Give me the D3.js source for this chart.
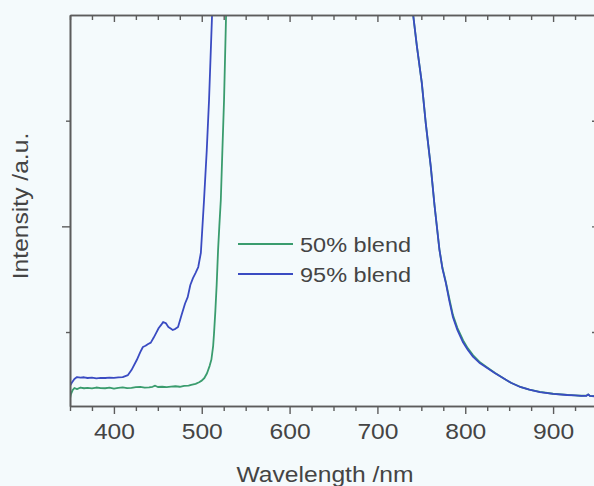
<!DOCTYPE html>
<html>
<head>
<meta charset="utf-8">
<script src="https://cdn.jsdelivr.net/npm/d3@7/dist/d3.min.js"></script>
<style>
  html, body { margin: 0; padding: 0; background: #f4fafc; }
  svg { display: block; }
</style>
</head>
<body>
<script>
// ---- Data ----
const seriesNames = ["50% blend", "95% blend"];

// 50% blend (green)
const greenWavelength = [350, 351, 353, 355, 358, 362, 366, 370, 375, 380, 385, 390, 395, 400, 405, 410, 415, 420, 425, 430, 435, 440, 444, 447, 450, 455, 460, 465, 470, 475, 480, 485, 488, 493, 497, 500, 503, 506, 509, 511, 513, 514, 515.5, 517, 518.6, 520, 521.7, 523.5, 525.4, 527.7, 529,
  600,
  738, 740.7, 745, 750.5, 755, 760.8, 765, 770.6, 774, 778, 782, 786, 791, 797.6, 803, 809, 816, 825, 834, 843, 852, 862.5, 873, 885, 900, 916, 925, 932, 938, 940, 942, 950];
const greenIntensity = [0.37, 0.41, 0.45, 0.47, 0.46, 0.475, 0.468, 0.472, 0.466, 0.475, 0.47, 0.468, 0.474, 0.465, 0.472, 0.476, 0.469, 0.472, 0.478, 0.48, 0.474, 0.476, 0.482, 0.492, 0.48, 0.482, 0.479, 0.484, 0.487, 0.482, 0.49, 0.493, 0.50, 0.51, 0.525, 0.54, 0.565, 0.61, 0.68, 0.74, 0.87, 0.99, 1.2, 1.45, 1.78, 2.0, 2.25, 2.72, 3.2, 4.0, 4.35,
  null,
  4.35, 4.0, 3.7, 3.36, 2.98, 2.56, 2.2, 1.78, 1.61, 1.47, 1.31, 1.16, 1.04, 0.92, 0.845, 0.78, 0.72, 0.665, 0.612, 0.565, 0.52, 0.482, 0.455, 0.433, 0.416, 0.405, 0.40, 0.397, 0.398, 0.41, 0.396, 0.39];

// 95% blend (blue)
const blueWavelength = [350, 352, 355, 358, 362, 366, 370, 375, 380, 385, 390, 395, 400, 405, 410, 416, 420, 426, 430, 433, 436, 439, 442, 445, 448, 451, 454, 456, 459, 462, 465, 467, 470, 473, 477, 481, 484, 487, 490, 493, 496, 499, 502.6, 505.7, 508.3, 511.7, 513,
  600,
  738, 740.7, 745, 750.5, 755, 760.8, 765, 770.6, 774, 778, 782, 786, 791, 797.6, 803, 809, 816, 825, 834, 843, 852, 862.5, 873, 885, 900, 916, 925, 932, 938, 940, 942, 950];
const blueIntensity = [0.49, 0.52, 0.555, 0.574, 0.568, 0.572, 0.565, 0.568, 0.562, 0.566, 0.565, 0.569, 0.566, 0.57, 0.574, 0.593, 0.64, 0.735, 0.81, 0.858, 0.87, 0.887, 0.9, 0.943, 0.99, 1.038, 1.07, 1.095, 1.085, 1.047, 1.03, 1.019, 1.03, 1.047, 1.16, 1.27, 1.33, 1.445, 1.51, 1.56, 1.615, 1.75, 2.25, 2.72, 3.195, 3.99, 4.3,
  null,
  4.35, 4.0, 3.7, 3.36, 2.98, 2.56, 2.2, 1.78, 1.6, 1.46, 1.29, 1.14, 1.02, 0.90, 0.83, 0.765, 0.71, 0.66, 0.61, 0.565, 0.52, 0.48, 0.455, 0.432, 0.415, 0.404, 0.40, 0.395, 0.397, 0.41, 0.395, 0.39];

const xMajorTicks = [400, 500, 600, 700, 800, 900];
const xMinorTicks = d3.range(350, 951, 25).filter(v => v % 100 !== 0);
const yMajorTicks = [2];
const yMinorTicks = [1, 3];
const xTitle = "Wavelength /nm";
const yTitle = "Intensity /a.u.";
const colors = ["#3a9c6e", "#3a4bc2"];

// ---- Layout ----
const W = 594, H = 486;
const L = 70, R = 597, T = 15, B = 406;
const font = "'Liberation Sans', Arial, Helvetica, sans-serif";
const textColor = "#444";
const axisColor = "#5c5c5c";
const sx = 1.12; // horizontal stretch of the original lettering

const svg = d3.select("body").append("svg").attr("width", W).attr("height", H);
svg.append("rect").attr("width", W).attr("height", H).attr("fill", "#f4fafc");

const x = d3.scaleLinear().domain([350, 950]).range([L, R]);
const y = d3.scaleLinear().domain([0.3, 4.0]).range([B, T]);

svg.append("defs").append("clipPath").attr("id", "plotclip")
  .append("rect").attr("x", L).attr("y", T).attr("width", R - L).attr("height", B - T);

// ---- Curves ----
const series = [
  { name: seriesNames[0], wl: greenWavelength, v: greenIntensity, color: colors[0] },
  { name: seriesNames[1], wl: blueWavelength, v: blueIntensity, color: colors[1] }
];
const line = d3.line()
  .defined(d => d[1] !== null)
  .x(d => x(d[0])).y(d => y(d[1]));

const plot = svg.append("g").attr("clip-path", "url(#plotclip)");
series.forEach(s => {
  plot.append("path")
    .datum(s.wl.map((w, i) => [w, s.v[i]]))
    .attr("fill", "none")
    .attr("stroke", s.color)
    .attr("stroke-width", 1.8)
    .attr("stroke-linejoin", "round")
    .attr("d", line);
});

// ---- Axes ----
function styleAxis(g) {
  g.selectAll("path.domain").attr("stroke", axisColor).attr("stroke-width", 1.6);
  g.selectAll(".tick line").attr("stroke", axisColor).attr("stroke-width", 1.4);
}

// bottom major with labels
const gxb = svg.append("g").attr("transform", `translate(0,${B})`)
  .call(d3.axisBottom(x).tickValues(xMajorTicks).tickSizeInner(8).tickSizeOuter(0).tickFormat(d3.format("d")));
styleAxis(gxb);
gxb.selectAll(".tick text")
  .attr("y", 33).attr("dy", 0)
  .attr("transform", `scale(${sx},1)`)
  .style("font-family", font).style("font-size", "22px").attr("fill", textColor);
// bottom minor
const gxbm = svg.append("g").attr("transform", `translate(0,${B})`)
  .call(d3.axisBottom(x).tickValues(xMinorTicks).tickSizeInner(5).tickSizeOuter(0).tickFormat(""));
styleAxis(gxbm);

// top axis (inward ticks)
const gxt = svg.append("g").attr("transform", `translate(0,${T})`)
  .call(d3.axisTop(x).tickValues(xMajorTicks).tickSizeInner(-7).tickSizeOuter(0).tickFormat(""));
styleAxis(gxt);
const gxtm = svg.append("g").attr("transform", `translate(0,${T})`)
  .call(d3.axisTop(x).tickValues(xMinorTicks).tickSizeInner(-5).tickSizeOuter(0).tickFormat(""));
styleAxis(gxtm);

// left axis (outward ticks)
const gyl = svg.append("g").attr("transform", `translate(${L},0)`)
  .call(d3.axisLeft(y).tickValues(yMajorTicks).tickSizeInner(8).tickSizeOuter(0).tickFormat(""));
styleAxis(gyl);
const gylm = svg.append("g").attr("transform", `translate(${L},0)`)
  .call(d3.axisLeft(y).tickValues(yMinorTicks).tickSizeInner(4).tickSizeOuter(0).tickFormat(""));
styleAxis(gylm);

// right axis (inward ticks)
const gyr = svg.append("g").attr("transform", `translate(${R},0)`)
  .call(d3.axisRight(y).tickValues(yMajorTicks.concat(yMinorTicks)).tickSizeInner(-5).tickSizeOuter(0).tickFormat(""));
styleAxis(gyr);

// ---- Titles ----
svg.append("text")
  .attr("transform", `translate(325,482) scale(${sx},1)`)
  .attr("text-anchor", "middle")
  .style("font-family", font).style("font-size", "22px").attr("fill", textColor)
  .text(xTitle);

svg.append("text")
  .attr("transform", `translate(28,206) rotate(-90) scale(${sx},1)`)
  .attr("text-anchor", "middle")
  .style("font-family", font).style("font-size", "22px").attr("fill", textColor)
  .text(yTitle);

// ---- Legend ----
const legend = svg.append("g");
series.forEach((s, i) => {
  const ly = 244 + i * 30;
  legend.append("line")
    .attr("x1", 238).attr("x2", 293).attr("y1", ly).attr("y2", ly)
    .attr("stroke", s.color).attr("stroke-width", 1.8);
  legend.append("text")
    .attr("transform", `translate(300,${ly + 8}) scale(${sx},1)`)
    .style("font-family", font).style("font-size", "21px").attr("fill", textColor)
    .text(s.name);
});
</script>
</body>
</html>
